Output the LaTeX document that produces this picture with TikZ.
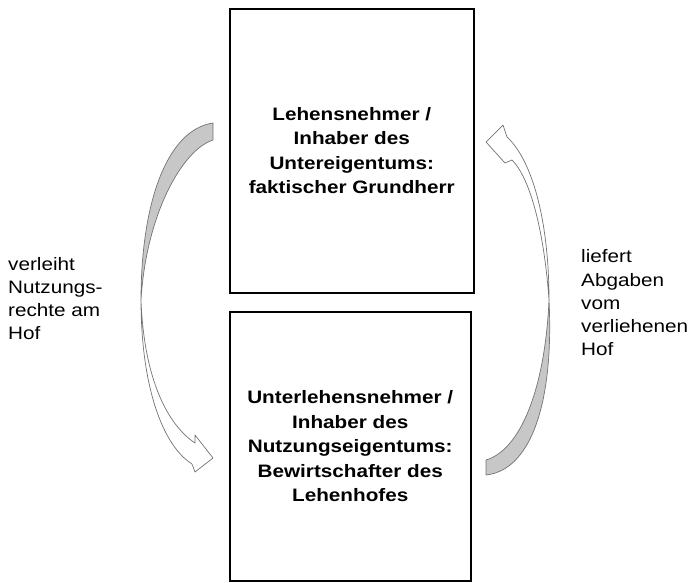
\documentclass[tikz,border=0pt]{standalone}
\usepackage{fontspec}
\setmainfont{Liberation Sans}[FakeStretch=1.15]
\begin{document}
\begin{tikzpicture}[x=1pt,y=-1pt,
  box/.style={draw=black,line width=2pt,fill=white,align=center,inner sep=0pt,
    font=\bfseries\fontsize{18}{24.5}\selectfont},
  lab/.style={anchor=north west,align=left,inner sep=0pt,
    font=\fontsize{18}{23.3}\selectfont},
  arrback/.style={draw=black!55,line width=0.7pt,fill=black!22,line join=round},
  arrfront/.style={draw=black!55,line width=0.7pt,fill=white,line join=round}]
\useasboundingbox (0,0) rectangle (689,582);

\node[box,minimum width=244.5pt,minimum height=284.5pt] (top) at (351.75,150.75)
  {Lehensnehmer /\\Inhaber des\\Untereigentums:\\faktischer Grundherr};
\node[box,minimum width=241.5pt,minimum height=269pt] (bot) at (350.25,446.5)
  {Unterlehensnehmer /\\Inhaber des\\Nutzungseigentums:\\Bewirtschafter des\\Lehenhofes};

% left curved arrow
\path[arrback] (213,123) .. controls (166,130) and (141,205) .. (141,300)
  .. controls (146,215) and (182,150) .. (213,140) -- cycle;
\path[arrfront] (141,300) .. controls (141,385) and (162,445) .. (192,464)
  -- (195,472) -- (213,458) -- (195,435) -- (195,443)
  .. controls (168,425) and (144,380) .. (141,300) -- cycle;

% right curved arrow
\path[arrback] (486,460) .. controls (520,450) and (545,390) .. (549,300)
  .. controls (554,400) and (532,470) .. (486,475) -- cycle;
\path[arrfront] (549,300) .. controls (549,220) and (532,160) .. (507,137)
  -- (503,125) -- (486,142) -- (505,163) -- (512,160)
  .. controls (530,178) and (544,230) .. (549,300) -- cycle;

\node[lab] (left) at (8,256.8) {verleiht\\Nutzungs-\\rechte am\\Hof};
\node[lab] (right) at (581,249.5) {liefert\\Abgaben\\vom\\verliehenen\\Hof};
\end{tikzpicture}
\end{document}
